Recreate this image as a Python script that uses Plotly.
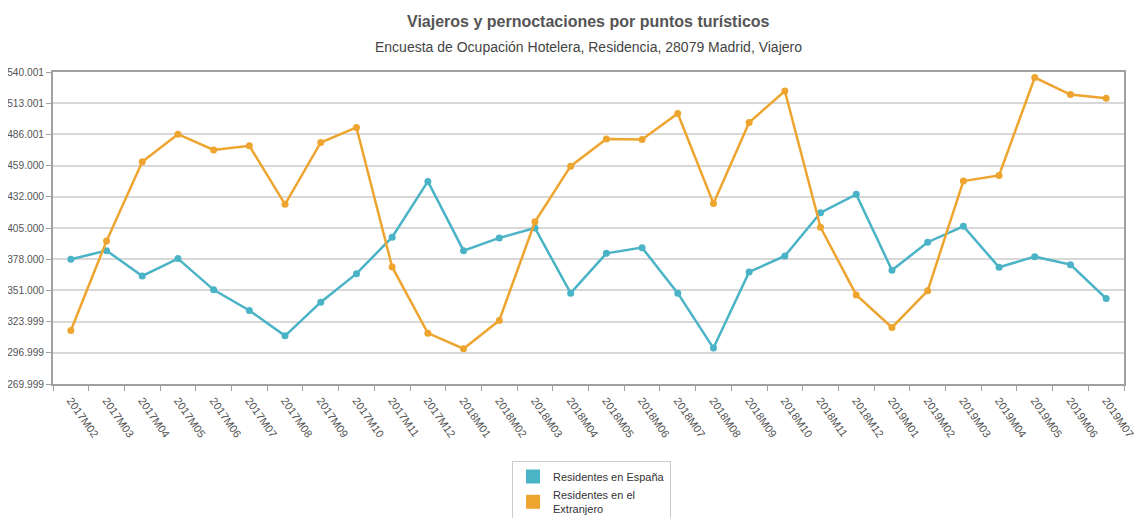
import plotly.graph_objects as go

categories = ["2017M02", "2017M03", "2017M04", "2017M05", "2017M06", "2017M07", "2017M08",
              "2017M09", "2017M10", "2017M11", "2017M12", "2018M01", "2018M02", "2018M03",
              "2018M04", "2018M05", "2018M06", "2018M07", "2018M08", "2018M09", "2018M10",
              "2018M11", "2018M12", "2019M01", "2019M02", "2019M03", "2019M04", "2019M05",
              "2019M06", "2019M07"]

residentes_espana = [378000, 385400, 363500, 378500, 351500, 333600, 311700, 340800, 365500,
                     397000, 445300, 385400, 396400, 405000, 348600, 383100, 388000, 348600,
                     301100, 367000, 380800, 418200, 434100, 368500, 392700, 406500, 371000,
                     380200, 373300, 344000]

residentes_extranjero = [316300, 393800, 462300, 486200, 472600, 476100, 425500, 479000, 492000,
                         371300, 314000, 300500, 325000, 410400, 458500, 482100, 481600, 504100,
                         426300, 496300, 523600, 405600, 347100, 318900, 350600, 445600, 450500,
                         535200, 520500, 517300]

y_tickvals = [269999, 296999.2, 323999.4, 350999.6, 377999.8, 405000, 432000.2, 459000.4,
              486000.6, 513000.8, 540001]
y_ticktext = ["269.999", "296.999", "323.999", "351.000", "378.000", "405.000", "432.000",
              "459.000", "486.001", "513.001", "540.001"]

series_names = ["Residentes en España", "Residentes en el<br>Extranjero"]
colors = ["#4ab3c6", "#eea52f"]

fig = go.Figure()
for name, vals, col in zip(series_names, [residentes_espana, residentes_extranjero], colors):
    fig.add_trace(go.Scatter(
        x=categories, y=vals, mode="lines+markers", name=name, showlegend=False,
        line=dict(color=col, width=2.5),
        marker=dict(color=col, size=7),
    ))
# legend patches (square swatches)
for name, col in zip(series_names, colors):
    fig.add_trace(go.Scatter(
        x=[None], y=[None], mode="markers", name=name,
        marker=dict(color=col, symbol="square", size=14),
    ))

W, H = 1137, 510
ML, MR, MT, MB = 45, 21, 64, 134
plot_h = H - MT - MB

fig.update_layout(
    width=W, height=H,
    margin=dict(l=ML, r=MR, t=MT, b=MB, autoexpand=False),
    paper_bgcolor="white", plot_bgcolor="white",
    font=dict(family="Liberation Sans, Arial, sans-serif", color="#555"),
    showlegend=True,
    legend=dict(
        xref="container", yref="container",
        x=0.4433, xanchor="left", y=1 - 453 / H, yanchor="top",
        bgcolor="white", bordercolor="#cccccc", borderwidth=1,
        font=dict(size=11, color="#333"),
        itemwidth=30, tracegroupgap=2,
    ),
    annotations=[
        dict(text="<b>Viajeros y pernoctaciones por puntos turísticos</b>",
             x=0.5, xref="paper", y=1 + (MT - 14) / plot_h, yref="paper",
             yanchor="middle", showarrow=False, font=dict(size=16, color="#555")),
        dict(text="Encuesta de Ocupación Hotelera, Residencia, 28079 Madrid, Viajero",
             x=0.5, xref="paper", y=1 + (MT - 39) / plot_h, yref="paper",
             yanchor="middle", showarrow=False, font=dict(size=14, color="#444")),
    ],
)

fig.update_xaxes(
    type="category", tickson="boundaries", automargin=False,
    ticks="outside", ticklen=5, tickcolor="#a0a0a0",
    showline=True, linecolor="#a0a0a0", linewidth=2, mirror=True,
    showgrid=False, tickangle=55, ticklabelstandoff=4,
    tickfont=dict(size=11, color="#505050"),
    range=[-0.5, len(categories) - 0.5],
)
fig.update_yaxes(
    range=[269999, 540001], tickvals=y_tickvals, ticktext=y_ticktext, automargin=False,
    ticks="outside", ticklen=5, tickcolor="#a0a0a0",
    showline=True, linecolor="#a0a0a0", linewidth=2, mirror=True,
    showgrid=True, gridcolor="#d8d8d8", gridwidth=1.5,
    zeroline=False,
    tickfont=dict(size=10.2, color="#555"),
)

fig.write_html("out.html")
